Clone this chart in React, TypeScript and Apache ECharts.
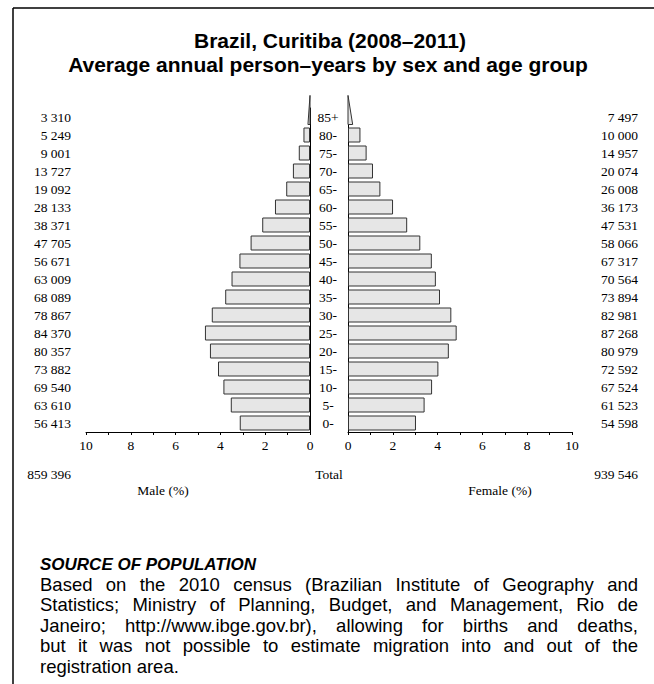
import React, { useEffect, useRef } from 'react';
import * as echarts from 'echarts';

const ageGroups = ['0-', '5-', '10-', '15-', '20-', '25-', '30-', '35-', '40-', '45-', '50-', '55-', '60-', '65-', '70-', '75-', '80-', '85+'];
const maleCounts = [56413, 63610, 69540, 73882, 80357, 84370, 78867, 68089, 63009, 56671, 47705, 38371, 28133, 19092, 13727, 9001, 5249, 3310];
const femaleCounts = [54598, 61523, 67524, 72592, 80979, 87268, 82981, 73894, 70564, 67317, 58066, 47531, 36173, 26008, 20074, 14957, 10000, 7497];
const axisMax = 10;
const titleLines = ['Brazil, Curitiba (2008\u20132011)', 'Average annual person\u2013years by sex and age group'];
const maleLabel = 'Male (%)';
const femaleLabel = 'Female (%)';
const totalLabel = 'Total';
const sourceHeading = 'SOURCE OF POPULATION';
const sourceLines = [
  'Based on the 2010 census (Brazilian Institute of Geography and',
  'Statistics; Ministry of Planning, Budget, and Management, Rio de',
  'Janeiro; http://www.ibge.gov.br), allowing for births and deaths,',
  'but it was not possible to estimate migration into and out of the',
  'registration area.',
];

const fmt = (n: number) => String(n).replace(/\B(?=(\d{3})+(?!\d))/g, ' ');
const sum = (a: number[]) => a.reduce((s, v) => s + v, 0);
const maleTotal = sum(maleCounts);
const femaleTotal = sum(femaleCounts);
const grandTotal = maleTotal + femaleTotal;
const malePct = maleCounts.map((c) => (c / grandTotal) * 100);
const femalePct = femaleCounts.map((c) => (c / grandTotal) * 100);
const openIdx = ageGroups.length - 1;

const SERIF = "'Liberation Serif', 'Times New Roman', serif";
const SANS = "'Liberation Sans', Arial, sans-serif";

function justifyLines(lines: string[], fontSize: number, x0: number, x1: number, y0: number, pitch: number) {
  const canvas = document.createElement('canvas');
  const ctx = canvas.getContext('2d')!;
  const font = `${fontSize}px ${SANS}`;
  ctx.font = font;
  const els: any[] = [];
  lines.forEach((line, li) => {
    const y = y0 + li * pitch;
    const words = line.split(' ');
    const last = li === lines.length - 1;
    if (last || words.length < 2) {
      els.push({ type: 'text', x: x0, y, style: { text: line, font, fill: '#000', textAlign: 'left', textVerticalAlign: 'middle' } });
      return;
    }
    const widths = words.map((w) => ctx.measureText(w).width);
    const gap = (x1 - x0 - sum(widths)) / (words.length - 1);
    let x = x0;
    words.forEach((w, i) => {
      els.push({ type: 'text', x, y, style: { text: w, font, fill: '#000', textAlign: 'left', textVerticalAlign: 'middle' } });
      x += widths[i] + gap;
    });
  });
  return els;
}

export default function App() {
  const ref = useRef<HTMLDivElement>(null);
  useEffect(() => {
    if (!ref.current) return;
    const chart = echarts.init(ref.current, undefined, { renderer: 'svg' });
    const gridTop = 108;
    const gridH = 324;
    const barW = 15;
    const labelStyle = { color: '#000', fontFamily: SERIF, fontSize: 13.5 };
    const xAxisBase = (gridIndex: number, inverse: boolean) => ({
      type: 'value', gridIndex, min: 0, max: axisMax, interval: 1, inverse, position: 'bottom',
      axisLine: { show: true, onZero: false, lineStyle: { color: '#000', width: 1 } },
      axisTick: { show: true, length: 3, lineStyle: { color: '#000' } },
      axisLabel: { ...labelStyle, margin: 6, formatter: (v: number) => (v % 2 === 0 ? String(v) : '') },
      splitLine: { show: false },
    });
    const triangle = (params: any, api: any) => {
      const v = api.value(0);
      const idx = api.value(1);
      const c0 = api.coord([0, idx]);
      const c1 = api.coord([v / 2, idx]);
      const band = api.size([0, 1])[1];
      const base = c0[1] + barW / 2;
      const top = c0[1] - band * 1.2;
      return {
        type: 'polygon',
        shape: { points: [[c0[0], base], [c1[0], base], [c0[0], top]] },
        style: { fill: '#e6e6e6', stroke: '#333', lineWidth: 1 },
      };
    };
    const barStyle = { color: '#e6e6e6', borderColor: '#333', borderWidth: 1 };
    const smallText = (text: string, x: number, y: number, align: string) => ({
      type: 'text', x, y, style: { text, font: `13.5px ${SERIF}`, fill: '#000', textAlign: align, textVerticalAlign: 'middle' },
    });
    const graphics: any[] = [
      { type: 'line', shape: { x1: 13, y1: 8, x2: 654, y2: 8 }, style: { stroke: '#000', lineWidth: 1.5 } },
      { type: 'line', shape: { x1: 13, y1: 8, x2: 13, y2: 684 }, style: { stroke: '#000', lineWidth: 1.5 } },
      { type: 'text', x: 330, y: 40.5, style: { text: titleLines[0], font: `bold 21px ${SANS}`, fill: '#000', textAlign: 'center', textVerticalAlign: 'middle' } },
      { type: 'text', x: 328, y: 64, style: { text: titleLines[1], font: `bold 21px ${SANS}`, fill: '#000', textAlign: 'center', textVerticalAlign: 'middle' } },
      smallText(fmt(maleTotal), 71, 474, 'right'),
      smallText(fmt(femaleTotal), 638, 474, 'right'),
      smallText(totalLabel, 329, 474, 'center'),
      smallText(maleLabel, 163, 490, 'center'),
      smallText(femaleLabel, 500, 490, 'center'),
      { type: 'text', x: 40, y: 564, style: { text: sourceHeading, font: `italic bold 17px ${SANS}`, fill: '#000', textAlign: 'left', textVerticalAlign: 'middle' } },
      ...justifyLines(sourceLines, 18.5, 40, 638, 584, 20.6),
    ];
    chart.setOption({
      animation: false,
      grid: [
        { left: 86, top: gridTop, width: 224, height: gridH },
        { left: 348, top: gridTop, width: 224, height: gridH },
      ],
      xAxis: [xAxisBase(0, true), xAxisBase(1, false)],
      yAxis: [
        {
          type: 'category', gridIndex: 0, data: ageGroups, position: 'right',
          axisLine: { show: true, onZero: false, lineStyle: { color: '#000', width: 1 } },
          axisTick: { show: false },
          axisLabel: { ...labelStyle, interval: 0, margin: 18, align: 'center' },
        },
        {
          type: 'category', gridIndex: 0, data: maleCounts.map(fmt), position: 'left',
          axisLine: { show: false }, axisTick: { show: false },
          axisLabel: { ...labelStyle, interval: 0, margin: 15 },
        },
        {
          type: 'category', gridIndex: 1, data: ageGroups, position: 'left',
          axisLine: { show: true, onZero: false, lineStyle: { color: '#000', width: 1 } },
          axisTick: { show: false },
          axisLabel: { show: false },
        },
        {
          type: 'category', gridIndex: 1, data: femaleCounts.map(fmt), position: 'right',
          axisLine: { show: false }, axisTick: { show: false },
          axisLabel: { ...labelStyle, interval: 0, margin: 66, align: 'right' },
        },
      ],
      series: [
        {
          type: 'bar', xAxisIndex: 0, yAxisIndex: 0, barWidth: barW, itemStyle: barStyle,
          data: malePct.map((v, i) => (i === openIdx ? '-' : v)),
        },
        {
          type: 'bar', xAxisIndex: 1, yAxisIndex: 2, barWidth: barW, itemStyle: barStyle,
          data: femalePct.map((v, i) => (i === openIdx ? '-' : v)),
        },
        {
          type: 'custom', xAxisIndex: 0, yAxisIndex: 0, renderItem: triangle,
          encode: { x: 0, y: 1 }, data: [[malePct[openIdx], openIdx]],
        },
        {
          type: 'custom', xAxisIndex: 1, yAxisIndex: 2, renderItem: triangle,
          encode: { x: 0, y: 1 }, data: [[femalePct[openIdx], openIdx]],
        },
      ],
      graphic: graphics,
    });
    return () => chart.dispose();
  }, []);
  return <div ref={ref} style={{ position: 'fixed', left: 0, top: 0, width: 654, height: 684, background: '#fff' }} />;
}
